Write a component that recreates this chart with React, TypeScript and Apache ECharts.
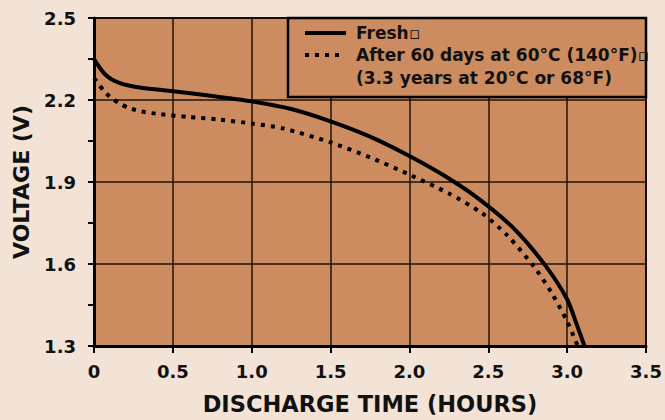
import React, { useEffect, useRef } from "react";
import * as echarts from "echarts";

const freshTime = [0, 0.02, 0.04, 0.07, 0.11, 0.16, 0.22, 0.3, 0.5, 0.75, 1.0, 1.25, 1.5, 1.75, 2.0, 2.25, 2.45, 2.66, 2.86, 3.0, 3.06, 3.11];
const freshVolt = [2.35, 2.332, 2.315, 2.294, 2.276, 2.263, 2.253, 2.245, 2.232, 2.215, 2.195, 2.167, 2.122, 2.066, 1.995, 1.913, 1.834, 1.731, 1.596, 1.471, 1.38, 1.3];

const agedTime = [0, 0.03, 0.06, 0.1, 0.16, 0.22, 0.3, 0.42, 0.6, 0.8, 1.0, 1.2, 1.5, 1.75, 2.0, 2.25, 2.46, 2.62, 2.79, 2.9, 3.0, 3.067];
const agedVolt = [2.28, 2.258, 2.235, 2.212, 2.188, 2.171, 2.158, 2.148, 2.138, 2.128, 2.114, 2.096, 2.045, 1.99, 1.927, 1.858, 1.786, 1.705, 1.59, 1.496, 1.39, 1.3];

const legendFresh = "Fresh\u25AB";
const legendAged1 = "After 60 days at 60\u00B0C (140\u00B0F)\u25AB";
const legendAged2 = "(3.3 years at 20\u00B0C or 68\u00B0F)";

const xName = "DISCHARGE TIME (HOURS)";
const yName = "VOLTAGE (V)";

const FONT = "'DejaVu Sans', Verdana, sans-serif";

export default function App() {
  const ref = useRef<HTMLDivElement>(null);
  useEffect(() => {
    if (!ref.current) return;
    const chart = echarts.init(ref.current, undefined, { renderer: "svg" });
    const freshData = freshTime.map((t, i) => [t, freshVolt[i]]);
    const agedData = agedTime.map((t, i) => [t, agedVolt[i]]);
    chart.setOption({
      animation: false,
      backgroundColor: "#f2e3d6",
      textStyle: { fontFamily: FONT },
      grid: {
        left: 94,
        right: 19,
        top: 18,
        bottom: 71,
        show: true,
        backgroundColor: "#cd8c5f",
        borderColor: "#000",
        borderWidth: 2,
      },
      xAxis: {
        type: "value",
        min: 0,
        max: 3.5,
        interval: 0.5,
        name: xName,
        nameLocation: "middle",
        nameGap: 46,
        nameTextStyle: { fontSize: 22.5, fontWeight: "bold", color: "#111", fontFamily: FONT },
        axisLine: { show: true, lineStyle: { color: "#000", width: 3 } },
        axisTick: { show: true, length: 7, lineStyle: { color: "#000", width: 2 } },
        axisLabel: {
          fontSize: 18,
          fontWeight: "bold",
          color: "#111",
          fontFamily: FONT,
          margin: 16,
          formatter: (v: number) => (v === 0 ? "0" : v.toFixed(1)),
        },
        splitLine: { show: true, lineStyle: { color: "#1e130c", width: 1.5 } },
      },
      yAxis: {
        type: "value",
        min: 1.3,
        max: 2.5,
        interval: 0.3,
        name: yName,
        nameLocation: "middle",
        nameGap: 62,
        nameTextStyle: { fontSize: 22, fontWeight: "bold", color: "#111", fontFamily: FONT },
        axisLine: { show: true, lineStyle: { color: "#000", width: 3 } },
        axisTick: { show: true, length: 6, lineStyle: { color: "#000", width: 2 } },
        minorTick: { show: true, splitNumber: 2, length: 6, lineStyle: { color: "#000", width: 2 } },
        axisLabel: {
          fontSize: 18,
          fontWeight: "bold",
          color: "#111",
          fontFamily: FONT,
          margin: 18,
          formatter: (v: number) => v.toFixed(1),
        },
        splitLine: { show: true, lineStyle: { color: "#1e130c", width: 1.5 } },
      },
      series: [
        {
          name: legendFresh,
          type: "line",
          data: freshData,
          showSymbol: false,
          smooth: 0.25,
          lineStyle: { color: "#000", width: 4 },
        },
        {
          name: legendAged1,
          type: "line",
          data: agedData,
          showSymbol: false,
          smooth: 0.25,
          lineStyle: { color: "#000", width: 4, type: [4, 6], cap: "butt" },
        },
      ],
      graphic: [
        {
          type: "rect",
          shape: { x: 288, y: 18, width: 358, height: 79 },
          style: { fill: "#cd8c5f", stroke: "#000", lineWidth: 2.5 },
          z: 100,
        },
        {
          type: "line",
          shape: { x1: 305, y1: 33, x2: 346, y2: 33 },
          style: { stroke: "#000", lineWidth: 4 },
          z: 101,
        },
        {
          type: "line",
          shape: { x1: 305, y1: 55, x2: 345, y2: 55 },
          style: { stroke: "#000", lineWidth: 4, lineDash: [4, 6] },
          z: 101,
        },
        {
          type: "text",
          x: 356,
          y: 32.5,
          style: { text: legendFresh, font: "bold 17px " + FONT, fill: "#111", verticalAlign: "middle" },
          z: 101,
        },
        {
          type: "text",
          x: 356,
          y: 55,
          style: { text: legendAged1, font: "bold 17px " + FONT, fill: "#111", verticalAlign: "middle" },
          z: 101,
        },
        {
          type: "text",
          x: 356,
          y: 77.5,
          style: { text: legendAged2, font: "bold 17px " + FONT, fill: "#111", verticalAlign: "middle" },
          z: 101,
        },
      ],
    });
    return () => chart.dispose();
  }, []);
  return <div ref={ref} style={{ width: 665, height: 420, position: "fixed", left: 0, top: 0 }} />;
}
